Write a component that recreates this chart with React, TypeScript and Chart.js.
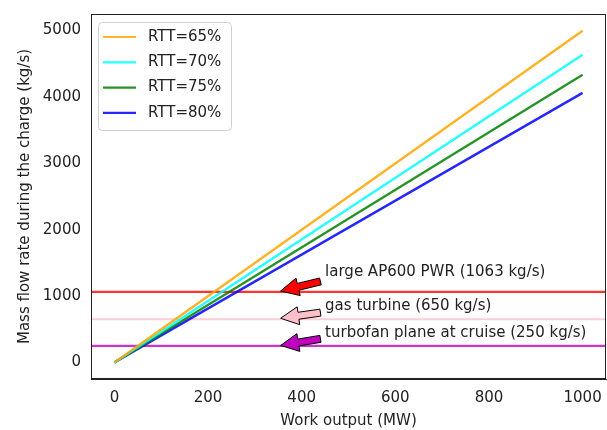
import React, { useEffect, useRef } from "react";
import { Chart, registerables } from "chart.js";

Chart.register(...registerables);

const rttLabels = ["RTT=65%", "RTT=70%", "RTT=75%", "RTT=80%"];
const rttColors = ["rgba(255,165,0,0.85)", "rgba(0,255,255,0.85)", "rgba(0,128,0,0.85)", "rgba(0,0,255,0.85)"];
const workOutput = [0, 1000];
const flowAt1000 = [4998, 4637, 4336, 4062];

const refValues = [1063, 650, 250];
const refColors = ["rgba(255,0,0,0.8)", "rgba(255,192,203,0.8)", "rgba(191,0,191,0.8)"];
const arrowColors = ["#ff0000", "#ffc0cb", "#bf00bf"];
const annoTexts = ["large AP600 PWR (1063 kg/s)", "gas turbine (650 kg/s)", "turbofan plane at cruise (250 kg/s)"];
const annoTextX = 450;
const annoTextY = [1300, 790, 390];
const arrowTipX = 355;
const arrowTailX = 440;
const arrowTipY = [1075, 665, 255];
const arrowTailY = [1220, 750, 355];

const xTicks = [0, 200, 400, 600, 800, 1000];
const yTicks = [0, 1000, 2000, 3000, 4000, 5000];
const xRange = [-50, 1050];
const yRange = [-250, 5250];

const FONT = "'DejaVu Sans', sans-serif";
const FS = 15;

export default function App() {
  const ref = useRef<HTMLCanvasElement>(null);
  useEffect(() => {
    document.body.style.margin = "0";
    const canvas = ref.current!;
    const overlay = {
      id: "overlay",
      beforeDatasetsDraw(chart: any) {
        const ctx = chart.ctx;
        const ys = chart.scales.y;
        const a = chart.chartArea;
        ctx.save();
        refValues.forEach((v, i) => {
          const py = ys.getPixelForValue(v);
          ctx.strokeStyle = refColors[i];
          ctx.lineWidth = 2.2;
          ctx.beginPath();
          ctx.moveTo(a.left, py);
          ctx.lineTo(a.right, py);
          ctx.stroke();
        });
        ctx.restore();
      },
      afterDatasetsDraw(chart: any) {
        const ctx = chart.ctx;
        const xs = chart.scales.x;
        const ys = chart.scales.y;
        const a = chart.chartArea;
        ctx.save();
        refValues.forEach((v, i) => {
          const tx = xs.getPixelForValue(arrowTipX);
          const ty = ys.getPixelForValue(arrowTipY[i]);
          const sx = xs.getPixelForValue(arrowTailX);
          const sy = ys.getPixelForValue(arrowTailY[i]);
          const dx = tx - sx, dy = ty - sy;
          const len = Math.hypot(dx, dy);
          const ux = dx / len, uy = dy / len;
          const nx = -uy, ny = ux;
          const w = 3.5, hw = 9, hl = 18;
          const bx = tx - ux * hl, by = ty - uy * hl;
          ctx.beginPath();
          ctx.moveTo(sx + nx * w, sy + ny * w);
          ctx.lineTo(bx + nx * w, by + ny * w);
          ctx.lineTo(bx + nx * hw, by + ny * hw);
          ctx.lineTo(tx, ty);
          ctx.lineTo(bx - nx * hw, by - ny * hw);
          ctx.lineTo(bx - nx * w, by - ny * w);
          ctx.lineTo(sx - nx * w, sy - ny * w);
          ctx.closePath();
          ctx.fillStyle = arrowColors[i];
          ctx.fill();
          ctx.strokeStyle = "#000";
          ctx.lineWidth = 1;
          ctx.stroke();
          ctx.fillStyle = "#222";
          ctx.font = `${FS}px ${FONT}`;
          ctx.textBaseline = "alphabetic";
          ctx.textAlign = "left";
          ctx.fillText(annoTexts[i], xs.getPixelForValue(annoTextX), ys.getPixelForValue(annoTextY[i]));
        });
        // legend
        const lx = a.left + 7, ly = a.top + 8, lw = 133, lh = 108;
        ctx.beginPath();
        (ctx as any).roundRect(lx + 0.5, ly + 0.5, lw, lh, 4);
        ctx.fillStyle = "rgba(255,255,255,0.8)";
        ctx.fill();
        ctx.strokeStyle = "#d0d0d0";
        ctx.lineWidth = 1;
        ctx.stroke();
        rttLabels.forEach((lab, i) => {
          const cy = ly + 15 + i * 25.3;
          ctx.strokeStyle = rttColors[i];
          ctx.lineWidth = 2.2;
          ctx.beginPath();
          ctx.moveTo(lx + 5, cy);
          ctx.lineTo(lx + 38, cy);
          ctx.stroke();
          ctx.fillStyle = "#222";
          ctx.font = `${FS}px ${FONT}`;
          ctx.textBaseline = "middle";
          ctx.fillText(lab, lx + 50, cy);
        });
        ctx.strokeStyle = "#222";
        ctx.lineWidth = 1;
        ctx.strokeRect(a.left + 0.5, a.top + 0.5, a.right - a.left - 1, a.bottom - a.top - 1);
        ctx.restore();
      },
    };
    const chart = new Chart(canvas, {
      type: "line",
      data: {
        datasets: rttLabels.map((lab, i) => ({
          label: lab,
          data: workOutput.map((x, j) => ({ x, y: j === 0 ? 0 : flowAt1000[i] })),
          borderColor: rttColors[i],
          backgroundColor: rttColors[i],
          borderWidth: 2.4,
          pointRadius: 0,
          tension: 0,
        })),
      },
      options: {
        animation: false,
        responsive: false,
        maintainAspectRatio: false,
        layout: { padding: { top: 5, right: 1, left: 0, bottom: 0 } },
        plugins: { legend: { display: false }, tooltip: { enabled: false } },
        scales: {
          x: {
            type: "linear",
            min: xRange[0],
            max: xRange[1],
            afterBuildTicks: (s: any) => { s.ticks = xTicks.map((v) => ({ value: v })); },
            afterFit: (s: any) => { s.height = 51; },
            grid: { display: false, drawTicks: true, tickLength: 5, tickColor: "#222" },
            border: { color: "#222" },
            ticks: { color: "#222", font: { family: FONT, size: FS }, padding: 5, maxRotation: 0, callback: (v: any) => String(v) },
            title: { display: true, text: "Work output (MW)", color: "#222", font: { family: FONT, size: FS }, padding: { top: 5, bottom: 0 } },
          },
          y: {
            type: "linear",
            min: yRange[0],
            max: yRange[1],
            afterBuildTicks: (s: any) => { s.ticks = yTicks.map((v) => ({ value: v })); },
            afterFit: (s: any) => { s.width = 91; },
            grid: { display: false, drawTicks: true, tickLength: 5, tickColor: "#222" },
            border: { color: "#222" },
            ticks: { color: "#222", font: { family: FONT, size: FS }, padding: 5, callback: (v: any) => String(v) },
            title: { display: true, text: "Mass flow rate during the charge (kg/s)", color: "#222", font: { family: FONT, size: FS }, padding: { top: 16, bottom: 0 } },
          },
        },
      },
      plugins: [overlay],
    } as any);
    return () => chart.destroy();
  }, []);
  return (
    <div style={{ width: 607, height: 430, background: "#fff" }}>
      <canvas ref={ref} width={607} height={430} style={{ display: "block" }} />
    </div>
  );
}
